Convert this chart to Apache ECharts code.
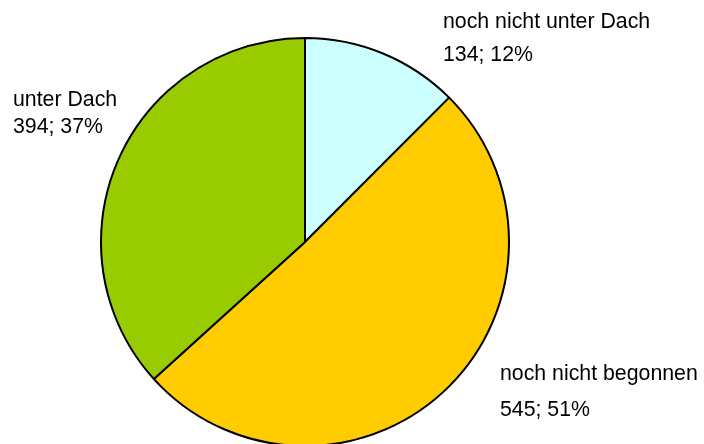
<!DOCTYPE html>
<html>
<head>
<meta charset="utf-8">
<script src="https://cdn.jsdelivr.net/npm/echarts@6/dist/echarts.min.js"></script>
<style>
  html, body { margin: 0; padding: 0; background: #fff; }
  #chart { width: 704px; height: 444px; }
</style>
</head>
<body>
<div id="chart"></div>
<script>
// Daten
var categories = ['noch nicht unter Dach', 'noch nicht begonnen', 'unter Dach'];
var values = [134, 545, 394];
var colors = ['#CCFFFF', '#FFCC00', '#99CC00'];

// label placement (left/top of text block) and line spacing per slice
var labelPos = [[443, 5.5], [500, 356.5], [13, 87]];
var labelLineHeight = [33, 36, 27];

var pieData = categories.map(function (name, i) {
  return {
    name: name,
    value: values[i],
    itemStyle: { color: colors[i] },
    label: { lineHeight: labelLineHeight[i] }
  };
});

var myChart = echarts.init(document.getElementById('chart'));
var option = {
  animation: false,
  series: [{
    type: 'pie',
    center: [305, 242],
    radius: 204,
    startAngle: 90,
    clockwise: true,
    percentPrecision: 0,
    data: pieData,
    itemStyle: {
      borderColor: '#000',
      borderWidth: 2
    },
    label: {
      show: true,
      position: 'outside',
      formatter: '{b}\n{c}; {d}%',
      fontFamily: 'Liberation Sans, Arial, sans-serif',
      fontSize: 21.3,
      color: '#000',
      overflow: 'none'
    },
    labelLine: { show: false },
    labelLayout: function (params) {
      var p = labelPos[params.dataIndex];
      return {
        x: p[0],
        y: p[1],
        align: 'left',
        verticalAlign: 'top'
      };
    },
    emphasis: { disabled: true }
  }]
};
myChart.setOption(option);
</script>
</body>
</html>
